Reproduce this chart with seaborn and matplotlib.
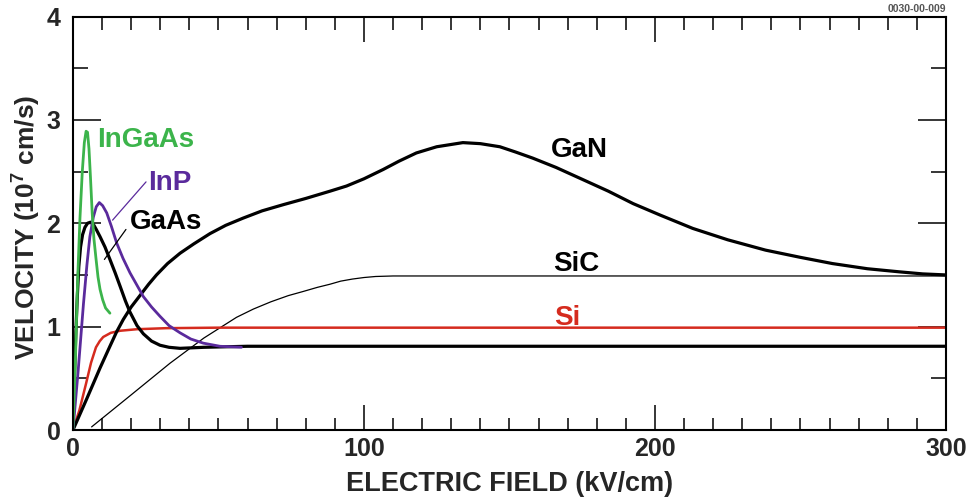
import seaborn as sns
import pandas as pd
import matplotlib
matplotlib.use("Agg")
import matplotlib.pyplot as plt
from matplotlib.ticker import MultipleLocator

#-----------------------------------------------------------------------------------------------------------------------
"""Data read off the reference (electric field kV/cm, velocity 1e7 cm/s)"""
ingaas_E = [0, 0.8, 1.6, 2.4, 3.2, 3.9, 4.5, 5.0, 5.5, 6.0, 6.6, 7.2, 7.9, 8.6, 9.3, 10.2, 11.2, 12.7]
ingaas_v = [0, 0.65, 1.45, 2.05, 2.5, 2.78, 2.89, 2.88, 2.72, 2.45, 2.1, 1.85, 1.66, 1.48, 1.36, 1.26, 1.18, 1.13]

inp_E = [0, 1.8, 3.6, 4.8, 5.8, 7.0, 8.0, 9.05, 10.2, 11.6, 13.2, 15.0, 17.2, 19.6, 22.0, 24.2, 27.0, 29.9,
         33.0, 36.8, 40.5, 44.8, 50.5, 57.9]
inp_v = [0, 0.58, 1.22, 1.60, 1.87, 2.06, 2.16, 2.20, 2.17, 2.10, 1.97, 1.81, 1.66, 1.52, 1.40, 1.29, 1.19, 1.10,
         1.01, 0.94, 0.88, 0.84, 0.81, 0.80]

gaas_E = [0, 0.5, 1.0, 1.5, 2.0, 2.6, 3.3, 4.1, 5.0, 6.0, 7.0, 8.0, 9.3, 11.0, 12.7, 14.5, 16.2, 18.0, 19.6,
          22.0, 24.2, 27.0, 29.9, 33.0, 36.8, 45.0, 60.0, 300.0]
gaas_v = [0, 0.5, 0.95, 1.3, 1.58, 1.77, 1.89, 1.96, 2.0, 2.01, 1.99, 1.94, 1.87, 1.77, 1.65, 1.52, 1.39, 1.25,
          1.14, 1.01, 0.93, 0.86, 0.82, 0.80, 0.79, 0.80, 0.81, 0.81]

gan_E = [0, 4.7, 9.3, 12.7, 15.0, 17.3, 20.0, 23.0, 26.0, 28.7, 32.5, 36.8, 41.5, 47.1, 52.5, 58.5, 65.0, 72.3,
         80.0, 88.3, 94.0, 100, 106.6, 112, 118, 125, 134, 140, 146.7, 152, 158, 166, 175.4, 184, 192.5, 201.7,
         213, 225, 238, 250, 261, 273, 284, 292, 300]
gan_v = [0, 0.30, 0.60, 0.81, 0.95, 1.07, 1.19, 1.30, 1.41, 1.50, 1.61, 1.71, 1.80, 1.90, 1.98, 2.05, 2.12, 2.18,
         2.24, 2.31, 2.36, 2.43, 2.52, 2.60, 2.68, 2.74, 2.78, 2.77, 2.74, 2.69, 2.63, 2.54, 2.42, 2.31, 2.19, 2.08,
         1.95, 1.84, 1.74, 1.67, 1.61, 1.56, 1.53, 1.51, 1.50]

sic_E = [6.4, 20, 33.3, 45, 56.2, 62, 68, 74, 79.1, 84, 88.3, 92, 96, 100, 104, 110, 300]
sic_v = [0.03, 0.34, 0.645, 0.89, 1.09, 1.17, 1.24, 1.30, 1.34, 1.38, 1.41, 1.44, 1.46, 1.475, 1.485, 1.49, 1.49]

si_E = [0, 2.2, 4.5, 6.2, 7.9, 9.2, 10.4, 13, 16.2, 22, 32, 50, 300]
si_v = [0, 0.19, 0.45, 0.65, 0.80, 0.86, 0.90, 0.94, 0.96, 0.975, 0.985, 0.99, 0.99]

# curve labels: text, E, v
labels = ['InGaAs', 'InP', 'GaAs', 'GaN', 'SiC', 'Si']
label_E = [8.2, 25.8, 19.6, 174, 173, 170]
label_v = [2.81, 2.39, 2.01, 2.71, 1.61, 1.08]

x_ticks = [0, 100, 200, 300]
y_ticks = [0, 1, 2, 3, 4]

#-----------------------------------------------------------------------------------------------------------------------
"""Style"""
sns.set_style("ticks")
plt.rcParams['font.family'] = ['Liberation Sans', 'DejaVu Sans']
plt.rcParams['font.weight'] = 'bold'
plt.rcParams['mathtext.fontset'] = 'custom'
plt.rcParams['mathtext.rm'] = 'Liberation Sans:bold'
plt.rcParams['mathtext.default'] = 'rm'

green = '#3cb44b'
purple = '#5a2a9c'
red = '#d52b1e'

fig = plt.figure(figsize=(9.77, 5.0), dpi=100)
ax = fig.add_axes([0.0747, 0.14, 0.8935, 0.827])

#-----------------------------------------------------------------------------------------------------------------------
"""Curves"""
sns.lineplot(x=sic_E, y=sic_v, ax=ax, color='black', linewidth=0.9, sort=False, estimator=None)
sns.lineplot(x=si_E, y=si_v, ax=ax, color=red, linewidth=1.8, sort=False, estimator=None)
sns.lineplot(x=gan_E, y=gan_v, ax=ax, color='black', linewidth=2.3, sort=False, estimator=None)
sns.lineplot(x=gaas_E, y=gaas_v, ax=ax, color='black', linewidth=2.3, sort=False, estimator=None)
sns.lineplot(x=inp_E, y=inp_v, ax=ax, color=purple, linewidth=2.0, sort=False, estimator=None)
sns.lineplot(x=ingaas_E, y=ingaas_v, ax=ax, color=green, linewidth=2.0, sort=False, estimator=None)

# leader lines
ax.plot([13.6, 25.1], [2.03, 2.40], color=purple, linewidth=0.9)
ax.plot([10.8, 18.2], [1.65, 1.94], color='black', linewidth=0.9)

label_colors = [green, purple, 'black', 'black', 'black', red]
label_ha = ['left', 'left', 'left', 'center', 'center', 'center']
for txt, ex, vy, c, ha in zip(labels, label_E, label_v, label_colors, label_ha):
    ax.text(ex, vy, txt, color=c, fontsize=20, fontweight='bold', ha=ha, va='center')

#-----------------------------------------------------------------------------------------------------------------------
"""Axes"""
ax.set_xlim(0, 300)
ax.set_ylim(0, 4)
ax.set_xticks(x_ticks)
ax.set_yticks(y_ticks)
ax.xaxis.set_minor_locator(MultipleLocator(10))
ax.yaxis.set_minor_locator(MultipleLocator(0.5))

ax.tick_params(axis='x', which='major', direction='in', length=18, width=1.3, top=True, labelsize=18, pad=5)
ax.tick_params(axis='x', which='minor', direction='in', length=9, width=1.3, top=True)
ax.tick_params(axis='y', which='major', direction='in', length=20, width=1.3, right=True, labelsize=18, pad=9)
ax.tick_params(axis='y', which='minor', direction='in', length=11, width=1.3, right=True)
for lab in ax.get_xticklabels() + ax.get_yticklabels():
    lab.set_fontweight('bold')

for s in ax.spines.values():
    s.set_linewidth(1.5)
    s.set_color('black')

ax.set_xlabel('ELECTRIC FIELD (kV/cm)', fontsize=19.5, fontweight='bold', labelpad=7)
ax.set_ylabel('VELOCITY (10$^{7}$ cm/s)', fontsize=19, fontweight='bold')
ax.yaxis.set_label_coords(-0.034, 0.49)

fig.text(0.9386, 0.983, '0030-00-009', fontsize=7.5, color='#555555', ha='center', va='center')

fig.savefig('out.png', dpi=100, facecolor='white')
